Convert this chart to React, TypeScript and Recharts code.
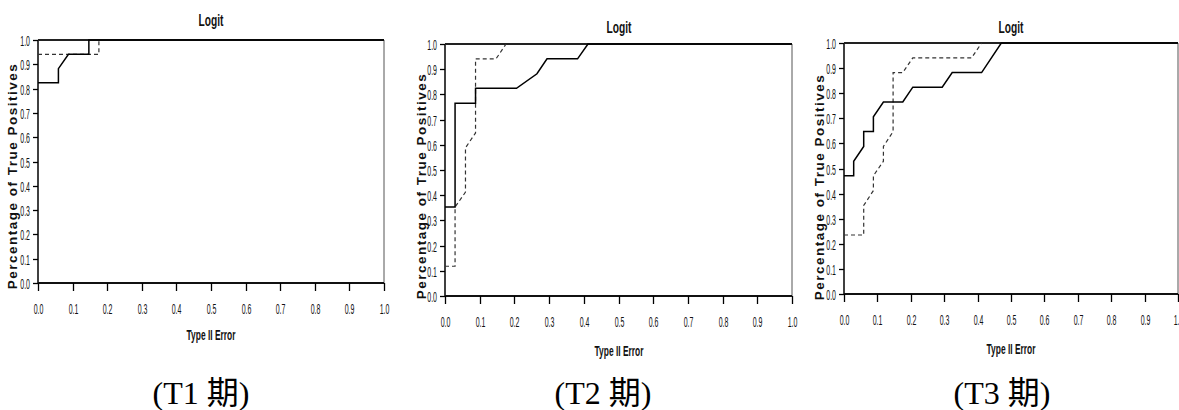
import { LineChart, Line, XAxis, YAxis, ReferenceLine } from "recharts";

// ROC step curves, [type II error, share of true positives]
const T1_SOLID = [[0, 0.824], [0.059, 0.824], [0.059, 0.882], [0.088, 0.941], [0.147, 0.941], [0.147, 1], [1, 1]];
const T1_DASHED = [[0, 0.941], [0.176, 0.941], [0.176, 1]];

const T2_SOLID = [[0, 0.353], [0.029, 0.353], [0.029, 0.765], [0.088, 0.765], [0.088, 0.824], [0.206, 0.824], [0.265, 0.882], [0.294, 0.941], [0.382, 0.941], [0.412, 1], [1, 1]];
const T2_DASHED = [[0, 0.118], [0.029, 0.118], [0.029, 0.353], [0.059, 0.412], [0.059, 0.588], [0.088, 0.647], [0.088, 0.941], [0.147, 0.941], [0.176, 1]];

const T3_SOLID = [[0, 0.471], [0.029, 0.471], [0.029, 0.529], [0.059, 0.588], [0.059, 0.647], [0.088, 0.647], [0.088, 0.706], [0.118, 0.765], [0.176, 0.765], [0.206, 0.824], [0.294, 0.824], [0.324, 0.882], [0.412, 0.882], [0.471, 1], [1, 1]];
const T3_DASHED = [[0, 0.235], [0.059, 0.235], [0.059, 0.353], [0.088, 0.412], [0.088, 0.471], [0.118, 0.529], [0.118, 0.588], [0.147, 0.647], [0.147, 0.882], [0.176, 0.882], [0.206, 0.941], [0.382, 0.941], [0.412, 1]];

const AXIS_TICKS = [0, 0.1, 0.2, 0.3, 0.4, 0.5, 0.6, 0.7, 0.8, 0.9, 1.0];
const PERIODS = ["T1", "T2", "T3"];
const CHART_TITLE = "Logit";
const X_TITLE = "Type II Error";
const Y_TITLE = "Percentage of True Positives";

const SANS = "'Liberation Sans', Arial, sans-serif";

const toPoints = (pairs: number[][]) => pairs.map(([x, y]) => ({ x, y }));

// plot box + text positions for each panel
const layouts = [
  { x0: 38, x1: 384, y0: 40, y1: 283, titleY: 20, xTitleY: 334, yTitleX: 13, yTitleY: 176 },
  { x0: 445, x1: 792, y0: 44, y1: 296, titleY: 27, xTitleY: 350, yTitleX: 422, yTitleY: 186 },
  { x0: 844, x1: 1178, y0: 43, y1: 294, titleY: 27, xTitleY: 348, yTitleX: 820, yTitleY: 187 },
];
const captionXs = [201, 603, 1002];

// tick mark + condensed label, drawn from the axis position
const XTick = ({ x, y, payload }: any) => (
  <g transform={`translate(${Math.round(x) + 0.5},${y})`}>
    <line x1={0} y1={0} x2={0} y2={8} stroke="#000" strokeWidth={1.3} />
    <text y={26} transform="scale(0.5,1)" textAnchor="middle" dominantBaseline="central" fontSize={14} fontFamily={SANS} fill="#111">
      {Number(payload.value).toFixed(1)}
    </text>
  </g>
);

const YTick = ({ x, y, payload }: any) => (
  <g transform={`translate(${x},${Math.round(y) + 0.5})`}>
    <line x1={-5} y1={0} x2={0} y2={0} stroke="#000" strokeWidth={1.3} />
    <text x={-16} transform="scale(0.5,1)" textAnchor="end" dominantBaseline="central" fontSize={14} fontFamily={SANS} fill="#111">
      {Number(payload.value).toFixed(1)}
    </text>
  </g>
);

const narrow = (x: number, y: number, size: number, sx: number): any => ({
  position: "absolute",
  left: x,
  top: y,
  transform: `translate(-50%,-50%) scaleX(${sx})`,
  fontFamily: SANS,
  fontWeight: "bold",
  fontSize: size,
  whiteSpace: "nowrap",
  color: "#111",
  lineHeight: 1,
});

const Panel = ({ lay, solid, dashed }: any) => {
  const w = lay.x1 - lay.x0;
  const h = lay.y1 - lay.y0;
  return (
    <>
      <div style={{ position: "absolute", left: lay.x0 - 40, top: lay.y0 - 10 }}>
        <LineChart width={w + 52} height={h + 10 + 34} margin={{ top: 10, right: 12, left: 0, bottom: 0 }}>
          <XAxis
            dataKey="x"
            type="number"
            domain={[0, 1]}
            ticks={AXIS_TICKS}
            height={34}
            axisLine={{ stroke: "#111", strokeWidth: 2 }}
            tickLine={false}
            tickSize={0}
            tickMargin={0}
            tick={<XTick />}
            interval={0}
          />
          <YAxis
            type="number"
            domain={[0, 1]}
            ticks={AXIS_TICKS}
            width={40}
            axisLine={false}
            tickLine={false}
            tickSize={0}
            tickMargin={0}
            tick={<YTick />}
            interval={0}
          />
          <ReferenceLine x={0} stroke="#000" strokeWidth={1.5} />
          <ReferenceLine y={1} stroke="#222" strokeWidth={2} />
          <ReferenceLine x={1} stroke="#555" strokeWidth={1} />
          <Line data={toPoints(dashed)} dataKey="y" type="linear" stroke="#333" strokeWidth={1.2} strokeDasharray="4 3" dot={false} isAnimationActive={false} />
          <Line data={toPoints(solid)} dataKey="y" type="linear" stroke="#000" strokeWidth={1.5} dot={false} isAnimationActive={false} />
        </LineChart>
      </div>
      <div style={narrow((lay.x0 + lay.x1) / 2, lay.titleY, 17, 0.6)}>{CHART_TITLE}</div>
      <div style={narrow((lay.x0 + lay.x1) / 2, lay.xTitleY, 15, 0.56)}>{X_TITLE}</div>
      <div
        style={{
          position: "absolute",
          left: lay.yTitleX,
          top: lay.yTitleY,
          transform: "translate(-50%,-50%) rotate(-90deg)",
          fontFamily: SANS,
          fontWeight: "bold",
          fontSize: 13.5,
          letterSpacing: 1.5,
          whiteSpace: "nowrap",
          color: "#111",
          lineHeight: 1,
        }}
      >
        {Y_TITLE}
      </div>
    </>
  );
};

export default function App() {
  const series = [
    [T1_SOLID, T1_DASHED],
    [T2_SOLID, T2_DASHED],
    [T3_SOLID, T3_DASHED],
  ];
  return (
    <div style={{ position: "absolute", left: 0, top: 0, width: 1179, height: 410, background: "#fff", overflow: "hidden" }}>
      {layouts.map((lay, i) => (
        <Panel key={i} lay={lay} solid={series[i][0]} dashed={series[i][1]} />
      ))}
      {PERIODS.map((p, i) => (
        <div
          key={p}
          style={{
            position: "absolute",
            left: captionXs[i],
            top: 393,
            transform: "translate(-50%,-50%)",
            fontFamily: "'Liberation Serif', 'Times New Roman', 'Noto Sans CJK TC', serif",
            fontSize: 32,
            whiteSpace: "nowrap",
            color: "#000",
            lineHeight: 1,
          }}
        >
          {`(${p} 期)`}
        </div>
      ))}
    </div>
  );
}
